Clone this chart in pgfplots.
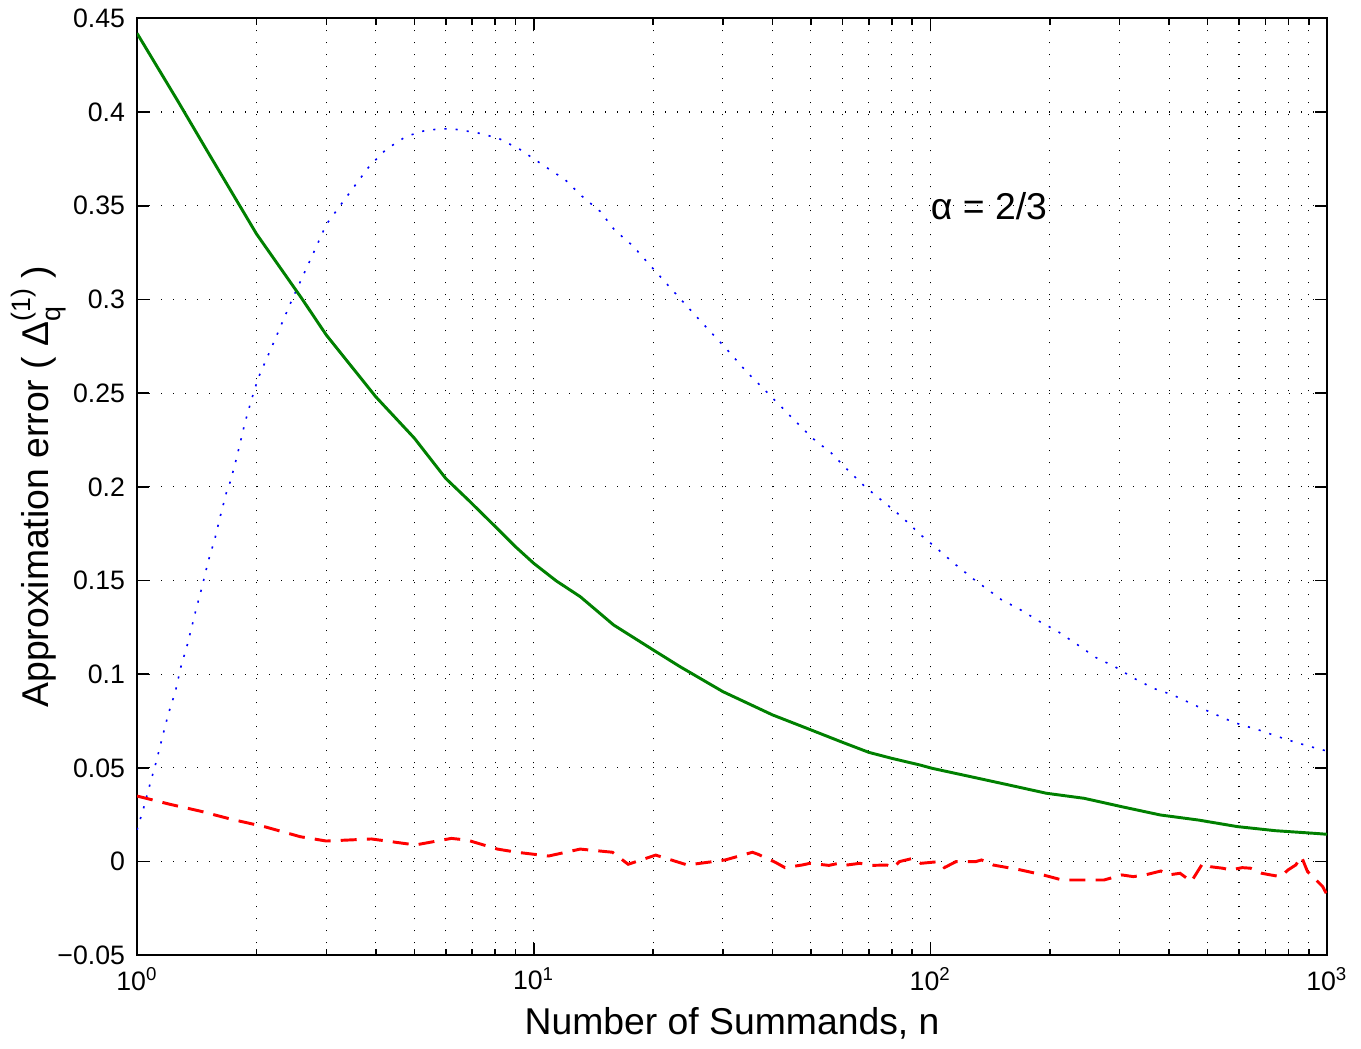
\documentclass[border=0pt]{standalone}
\usepackage{fontspec}
\setmainfont{Liberation Sans}
\usepackage{pgfplots}
\pgfplotsset{compat=1.18}
\definecolor{mgreen}{rgb}{0,0.5,0}

\begin{document}
\begin{tikzpicture}
\begin{axis}[
    scale only axis,
    width=446.25pt, height=351.4pt,
    xmode=log,
    xmin=1, xmax=1000,
    ymin=-0.05, ymax=0.45,
    xtick={1,10,100,1000},
    xticklabels={10\textsuperscript{0},10\textsuperscript{1},10\textsuperscript{2},10\textsuperscript{3}},
    ytick={-0.05,0,0.05,0.1,0.15,0.2,0.25,0.3,0.35,0.4,0.45},
    yticklabels={−0.05,0,0.05,0.1,0.15,0.2,0.25,0.3,0.35,0.4,0.45},
    tick label style={font=\fontsize{10}{12}\selectfont},
    yticklabel style={xshift=-1pt},
    xticklabel style={yshift=-1pt},
    grid=both,
    major grid style={black, line width=0.4pt, dash pattern=on 0.5pt off 4pt},
    minor grid style={black, line width=0.4pt, dash pattern=on 0.5pt off 4pt},
    axis line style={line width=0.8pt},
    tick style={black, line width=0.6pt},
    major tick length=4.5pt,
    minor tick length=2.5pt,
    tick align=inside,
    xlabel={Number of Summands, n},
    ylabel={Approximation error ( Δ\rlap{\raisebox{-0.6ex}{\fontsize{10}{12}\selectfont q}}\raisebox{0.9ex}{\fontsize{10}{12}\selectfont (1)} )},
    label style={font=\fontsize{14}{16}\selectfont},
    xlabel style={at={(axis description cs:0.5,-0.073)}, anchor=center},
    ylabel style={at={(axis description cs:-0.0825,0.5)}, anchor=center},
]
\addplot[blue, line width=0.6pt, dash pattern=on 0.8pt off 3.4pt] coordinates {
(1,0.017) (1.04,0.029) (1.08,0.042) (1.12,0.054) (1.16,0.067) (1.2,0.079)
(1.25,0.091) (1.29,0.104) (1.34,0.116) (1.41,0.135) (1.46,0.147) (1.51,0.160)
(1.57,0.172) (1.62,0.184) (1.68,0.197) (1.72,0.203) (1.78,0.215) (1.87,0.234)
(1.94,0.246) (2.02,0.258) (2.2,0.276) (2.46,0.300) (2.76,0.323) (3.0,0.340)
(3.25,0.350) (3.55,0.361) (3.85,0.371) (4.24,0.380) (4.77,0.387) (5.3,0.390)
(5.8,0.391) (6.25,0.391) (7.18,0.389) (8.15,0.386) (9.24,0.380) (10.67,0.371)
(11.98,0.364) (13.25,0.355) (14.7,0.347) (16.0,0.337) (17.8,0.3285) (19.5,0.319)
(21.4,0.3095) (23.5,0.300) (25.8,0.2905) (28.4,0.281) (31.1,0.272) (34.2,0.262)
(37.7,0.253) (41.5,0.244) (45.7,0.235) (50.4,0.226) (56.3,0.218) (61.9,0.209)
(68.5,0.200) (76.2,0.192) (84.7,0.184) (93.8,0.175) (104,0.167) (115,0.159)
(128,0.151) (142,0.144) (150.5,0.140) (170,0.134) (189,0.128) (209,0.123)
(234,0.116) (261,0.109) (292,0.104) (325,0.098) (365,0.0925) (408,0.089)
(453,0.0845) (505,0.080) (563,0.0756) (602,0.0733) (672,0.0703) (743,0.0671)
(801,0.0648) (896,0.0617) (1000,0.059)
};
\addplot[mgreen, line width=1.1pt] coordinates {
(1,0.442) (1.27,0.4055) (1.5,0.3795) (2,0.335) (2.6,0.3006) (3,0.281) (4,0.248)
(5,0.226) (6,0.2045) (6.84,0.193) (8,0.1788) (9,0.168) (10,0.1592) (11.4,0.1498)
(13.1,0.1414) (15.9,0.1263) (20,0.113) (23.4,0.104) (30,0.0907) (40,0.0783)
(50,0.0703) (60,0.0637) (70,0.0583) (80,0.0551) (94,0.0516) (101,0.0498)
(126,0.0454) (157,0.041) (196,0.0365) (244,0.0338) (304,0.0293) (380,0.0249)
(474,0.0222) (594,0.0187) (742,0.0165) (930,0.0151) (1000,0.0146)
};
\addplot[red, line width=1.1pt, dash pattern=on 6pt off 3.8pt] coordinates {
(1,0.035) (1.21,0.0306) (1.44,0.027) (1.73,0.0226) (2.1,0.0186) (2.58,0.0133)
(3.0,0.011) (3.9,0.0121) (5.03,0.0089) (6.2,0.0124) (6.8,0.0115) (8.1,0.0067)
(9.07,0.005) (10.9,0.003) (13.1,0.0067) (15.8,0.005) (17.3,-0.0014) (20.3,0.0035)
(24.4,-0.0018) (30.4,0.0009) (35.6,0.005) (36.8,0.0039) (40.7,-0.0004) (43,-0.0032)
(47.5,-0.0018) (49.7,-0.0009) (55.5,-0.002) (58.7,-0.0009) (60.6,-0.002) (66.4,-0.0009)
(71.2,-0.002) (77.7,-0.0018) (80.8,-0.0032) (83.5,0) (90.5,0.0018) (94.7,-0.0009)
(104.9,0) (108.5,-0.0032) (116,0) (130,0) (134.6,0.0009) (144,-0.0018)
(168.6,-0.0044) (192.5,-0.0071) (215,-0.0098) (246,-0.0098) (274,-0.0098) (304,-0.0071)
(325,-0.008) (348,-0.0071) (381,-0.005) (399,-0.0071) (426,-0.0062) (455,-0.0106)
(486,-0.0009) (508,-0.0027) (545,-0.0035) (572,-0.0044) (611,-0.0032) (641,-0.0035)
(684,-0.0062) (721,-0.0071) (764,-0.008) (798,-0.0044) (834,-0.0018) (862,0.0027)
(893,-0.0053) (930,-0.0089) (975,-0.0133) (1000,-0.0177)
};
\node[anchor=west, font=\fontsize{14}{16}\selectfont] at (axis cs:95,0.35) {α = 2/3};
\coordinate (ll) at (rel axis cs:0,0);
\coordinate (ur) at (rel axis cs:1,1);
\end{axis}
\path (ll) ++(-51.4pt,-34.9pt);
\path (ur) ++(12.75pt,6pt);
\end{tikzpicture}
\end{document}
